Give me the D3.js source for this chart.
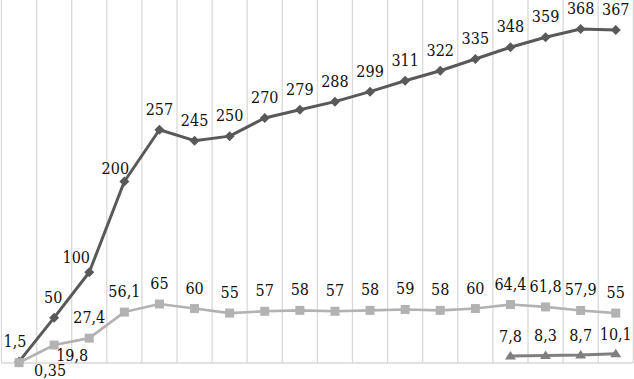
<!DOCTYPE html>
<html>
<head>
<meta charset="utf-8">
<script src="https://cdn.jsdelivr.net/npm/d3@7"></script>
<style>
  html, body { margin: 0; padding: 0; background: #fff; }
  svg { display: block; }
  .lbl { font-family: "DejaVu Serif Condensed", "DejaVu Serif"; font-stretch: condensed; font-size: 16px; }
</style>
</head>
<body>
<div id="chart"></div>
<script>
// Données
const categories = d3.range(1, 19).map(String);
const seriesDiamond = [1.5, 50, 100, 200, 257, 245, 250, 270, 279, 288, 299, 311, 322, 335, 348, 359, 368, 367];
const seriesSquare = [0.35, 19.8, 27.4, 56.1, 65, 60, 55, 57, 58, 57, 58, 59, 58, 60, 64.4, 61.8, 57.9, 55];
const seriesTriangle = [null, null, null, null, null, null, null, null, null, null, null, null, null, null, 7.8, 8.3, 8.7, 10.1];

// Décalages manuels des étiquettes (dx, dy), sinon au-dessus
const labelShiftDiamond = { 0: [-4, -15], 1: [-1, -15], 2: [-13, -9], 3: [-9, -8] };
const labelShiftSquare = { 0: [31, 13], 1: [18, 16] };

const width = 634;
const height = 379;
const left = 1.5, right = 633.3, bottom = 363;

const svg = d3.select("#chart").append("svg")
  .attr("width", width)
  .attr("height", height);

const x = d3.scaleBand().domain(categories).range([left, right]).padding(0);
const y = d3.scaleLinear().domain([0, 400]).range([bottom, 0]);
const cx = (i) => x(categories[i]) + x.bandwidth() / 2;

// Grille verticale
const gridX = categories.map((c) => x(c)).concat([right]);
svg.append("g").selectAll("line")
  .data(gridX)
  .enter().append("line")
  .attr("x1", (d) => d).attr("x2", (d) => d)
  .attr("y1", 0).attr("y2", bottom)
  .attr("stroke", "#d9d9d9")
  .attr("stroke-width", 1.3);

// Ligne de base
svg.append("line")
  .attr("x1", left).attr("x2", right)
  .attr("y1", bottom).attr("y2", bottom)
  .attr("stroke", "#d9d9d9")
  .attr("stroke-width", 1.3);

function drawSeries(values, color, lineWidth, marker) {
  const pts = values.map((v, i) => ({ v, i })).filter((d) => d.v !== null);
  const line = d3.line().x((d) => cx(d.i)).y((d) => y(d.v));

  svg.append("path")
    .datum(pts)
    .attr("d", line)
    .attr("fill", "none")
    .attr("stroke", color)
    .attr("stroke-width", lineWidth)
    .attr("stroke-linejoin", "round");

  svg.append("g").selectAll("path")
    .data(pts)
    .enter().append("path")
    .attr("transform", (d) => `translate(${cx(d.i)},${y(d.v)})`)
    .attr("d", marker)
    .attr("fill", color);

  return pts;
}

const diamond = "M0,-5L5,0L0,5L-5,0Z";
const square = "M-4.5,-4.5H4.5V4.5H-4.5Z";
const triangle = "M0,-5L5.5,3.5H-5.5Z";

const ptsD = drawSeries(seriesDiamond, "#595959", 3, diamond);
const ptsS = drawSeries(seriesSquare, "#b2b2b2", 2.6, square);
const ptsT = drawSeries(seriesTriangle, "#7f7f7f", 3, triangle);

function drawLabels(pts, shifts, defaultDy) {
  svg.append("g").selectAll("text")
    .data(pts)
    .enter().append("text")
    .attr("class", "lbl")
    .attr("x", (d) => cx(d.i) + (shifts[d.i] ? shifts[d.i][0] : 0))
    .attr("y", (d) => y(d.v) + (shifts[d.i] ? shifts[d.i][1] : defaultDy))
    .attr("text-anchor", "middle")
    .attr("fill", "#111")
    .text((d) => String(d.v).replace(".", ","));
}

drawLabels(ptsD, labelShiftDiamond, -15);
drawLabels(ptsS, labelShiftSquare, -15);
drawLabels(ptsT, {}, -14);
</script>
</body>
</html>
